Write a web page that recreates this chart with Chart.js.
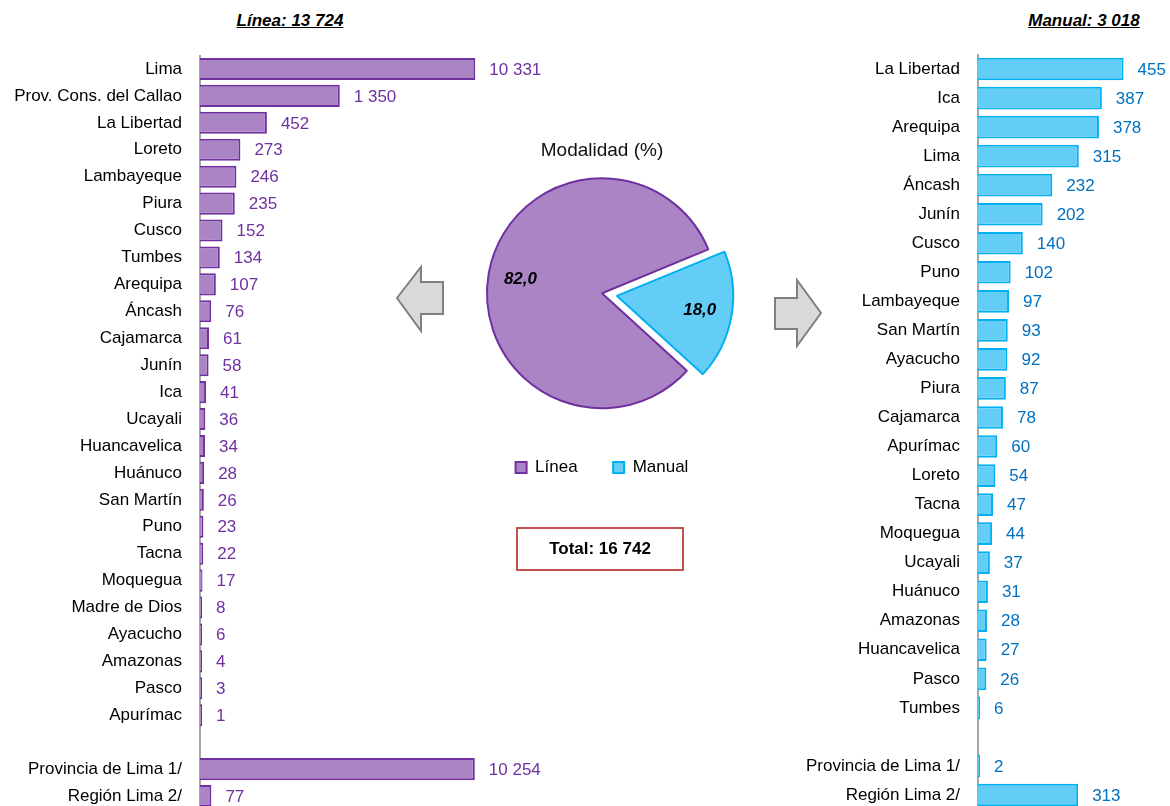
<!DOCTYPE html>
<html lang="es">
<head>
<meta charset="utf-8">
<title>Modalidad</title>
<script src="https://cdn.jsdelivr.net/npm/chart.js@4.4.1/dist/chart.umd.min.js"></script>
<style>
  body {
    margin: 0; width: 1170px; height: 806px; overflow: hidden; background: #fff; position: relative;
    font-family: "Liberation Sans", Arial, sans-serif; color: #000;
  }
  canvas, .txt, svg { position: absolute; }
  .titulo { top: 9px; width: 200px; text-align: center; font-size: 17px; line-height: 24px;
            font-weight: bold; font-style: italic; text-decoration: underline; }
  .total { left: 516px; top: 527px; width: 164px; height: 40px; border: 2px solid #C0504D;
           font-size: 17px; font-weight: bold; line-height: 40px; text-align: center; }
</style>
</head>
<body>
<div class="txt titulo" style="left:190px">Línea: 13 724</div>
<div class="txt titulo" style="left:984px">Manual: 3 018</div>

<!-- the y axis reserves tick padding + half a label above and below the plot (18 + 8.5) -->
<canvas id="cLinea" width="560" height="807" style="left:0;top:28.5px"></canvas>
<canvas id="cManual" width="410" height="808" style="left:760px;top:27.5px"></canvas>
<canvas id="cPie" width="300" height="349" style="left:452px;top:137px"></canvas>

<svg width="1170" height="806" style="left:0;top:0;pointer-events:none">
  <polygon points="397,298 421,267 421,282 443,282 443,314 421,314 421,331" fill="#D9D9D9" stroke="#808080" stroke-width="2"/>
  <polygon points="775,298 797,298 797,280 821,313 797,346 797,329 775,329" fill="#D9D9D9" stroke="#808080" stroke-width="2"/>
</svg>

<div class="txt total">Total: 16 742</div>

<script>
// Línea (barras izquierda)
const lineaLabels = ['Lima', 'Prov. Cons. del Callao', 'La Libertad', 'Loreto', 'Lambayeque', 'Piura', 'Cusco',
  'Tumbes', 'Arequipa', 'Áncash', 'Cajamarca', 'Junín', 'Ica', 'Ucayali', 'Huancavelica', 'Huánuco',
  'San Martín', 'Puno', 'Tacna', 'Moquegua', 'Madre de Dios', 'Ayacucho', 'Amazonas', 'Pasco', 'Apurímac',
  '', 'Provincia de Lima 1/', 'Región Lima 2/'];
const lineaValues = [10331, 1350, 452, 273, 246, 235, 152, 134, 107, 76, 61, 58, 41, 36, 34, 28, 26, 23, 22, 17,
  8, 6, 4, 3, 1, null, 10254, 77];

// Manual (barras derecha)
const manualLabels = ['La Libertad', 'Ica', 'Arequipa', 'Lima', 'Áncash', 'Junín', 'Cusco', 'Puno', 'Lambayeque',
  'San Martín', 'Ayacucho', 'Piura', 'Cajamarca', 'Apurímac', 'Loreto', 'Tacna', 'Moquegua', 'Ucayali',
  'Huánuco', 'Amazonas', 'Huancavelica', 'Pasco', 'Tumbes', '', 'Provincia de Lima 1/', 'Región Lima 2/'];
const manualValues = [455, 387, 378, 315, 232, 202, 140, 102, 97, 93, 92, 87, 78, 60, 54, 47, 44, 37, 31, 28, 27,
  26, 6, null, 2, 313];

// Modalidad (%)
const modalidadLabels = ['Línea', 'Manual'];
const modalidadValues = [82.0, 18.0];

const FONT = '"Liberation Sans", Arial, sans-serif';
const PURPLE = '#7030A0', PURPLE_FILL = '#AB84C6';
const CYAN = '#00B0F0', CYAN_FILL = '#63CDF5', BLUE = '#0070C0';

Chart.defaults.font.family = FONT;
Chart.defaults.color = '#000';
Chart.defaults.animation = false;

const fmtMiles = v => String(v).replace(/\B(?=(\d{3})+(?!\d))/g, ' ');

// the left chart in the original uses broken (shortened) bars for the big values:
// linear up to BREAK, then logarithmic
const BREAK = 450;
const squash = v => v <= BREAK ? v : BREAK * (1 + Math.log(v / BREAK));
const unsquash = s => s <= BREAK ? s : BREAK * Math.exp(s / BREAK - 1);

class BrokenLinearScale extends Chart.LinearScale {
  getPixelForValue(value) {
    if (value === null || isNaN(value)) return NaN;
    return this.getPixelForDecimal(squash(value) / squash(this.max));
  }
  getValueForPixel(pixel) {
    return unsquash(this.getDecimalForPixel(pixel) * squash(this.max));
  }
}
BrokenLinearScale.id = 'brokenLinear';
BrokenLinearScale.defaults = Chart.LinearScale.defaults;
Chart.register(BrokenLinearScale);

// numbers at the end of each bar
const valueLabels = {
  id: 'valueLabels',
  afterDatasetsDraw(chart, args, opts) {
    const ctx = chart.ctx;
    const data = chart.data.datasets[0].data;
    ctx.save();
    ctx.font = `${opts.size}px ${FONT}`;
    ctx.fillStyle = opts.color;
    ctx.textAlign = 'left';
    ctx.textBaseline = 'middle';
    chart.getDatasetMeta(0).data.forEach((bar, i) => {
      if (data[i] == null) return;
      ctx.fillText(fmtMiles(data[i]), bar.x + opts.gap, bar.y + 1);
    });
    ctx.restore();
  }
};

function barChart(id, labels, values, cfg) {
  return new Chart(document.getElementById(id), {
    type: 'bar',
    data: {
      labels: labels,
      datasets: [{
        data: values,
        backgroundColor: cfg.fill,
        borderColor: cfg.border,
        borderWidth: 2,
        borderSkipped: 'start',
        barPercentage: cfg.bar,
        categoryPercentage: 1,
        minBarLength: 2
      }]
    },
    options: {
      indexAxis: 'y',
      responsive: false,
      animation: false,
      events: [],
      layout: { padding: 0 },
      plugins: {
        legend: { display: false },
        tooltip: { enabled: false },
        valueLabels: { color: cfg.label, size: 17, gap: 14 }
      },
      scales: {
        x: { type: cfg.xType, min: 0, max: cfg.max, display: false },
        y: {
          grid: { display: false, drawTicks: false },
          border: { display: true, color: '#A6A6A6', width: 2 },
          ticks: { autoSkip: false, padding: 18, color: '#000', font: { size: 17, lineHeight: 1 } },
          afterFit: s => { s.width = cfg.axisWidth; }
        }
      }
    },
    plugins: [valueLabels]
  });
}

barChart('cLinea', lineaLabels, lineaValues, {
  fill: PURPLE_FILL, border: PURPLE, label: PURPLE, bar: 0.82,
  xType: 'brokenLinear', max: 36850, axisWidth: 200
});

barChart('cManual', manualLabels, manualValues, {
  fill: CYAN_FILL, border: CYAN, label: BLUE, bar: 0.78,
  xType: 'linear', max: 600, axisWidth: 218
});

// percentages inside the pie
const pieLabels = {
  id: 'pieLabels',
  afterDatasetsDraw(chart) {
    const ctx = chart.ctx;
    ctx.save();
    ctx.font = `italic bold 17px ${FONT}`;
    ctx.fillStyle = '#000';
    ctx.textAlign = 'center';
    ctx.textBaseline = 'middle';
    chart.getDatasetMeta(0).data.forEach((arc, i) => {
      const p = arc.getProps(['x', 'y', 'startAngle', 'endAngle', 'outerRadius', 'circumference'], true);
      const mid = (p.startAngle + p.endAngle) / 2;
      const off = (arc.options.offset || 0) / 4;
      const shift = off * (2 - Math.sin(Math.min(Math.PI, p.circumference)));
      const r = shift + p.outerRadius * 0.72;
      const txt = modalidadValues[i].toFixed(1).replace('.', ',');
      ctx.fillText(txt, p.x + Math.cos(mid) * r, p.y + Math.sin(mid) * r);
    });
    ctx.restore();
  }
};

new Chart(document.getElementById('cPie'), {
  type: 'pie',
  data: {
    labels: modalidadLabels,
    datasets: [{
      data: modalidadValues,
      backgroundColor: [PURPLE_FILL, CYAN_FILL],
      borderColor: [PURPLE, CYAN],
      borderWidth: 2,
      offset: [0, 60]
    }]
  },
  options: {
    responsive: false,
    animation: false,
    events: [],
    rotation: 132.4,
    radius: 115,
    layout: { padding: 0 },
    plugins: {
      tooltip: { enabled: false },
      title: {
        display: true,
        text: 'Modalidad (%)',
        color: '#111',
        font: { size: 19, weight: 'normal', lineHeight: 1.2 },
        padding: { top: 2.6, bottom: 5.6 }
      },
      legend: {
        position: 'bottom',
        title: { display: true, text: ' ', font: { size: 5, lineHeight: 1 }, padding: 0 },
        labels: {
          boxWidth: 11,
          boxHeight: 11,
          padding: 35.5,
          color: '#000',
          font: { size: 17 }
        }
      }
    }
  },
  plugins: [pieLabels]
});
</script>
</body>
</html>
